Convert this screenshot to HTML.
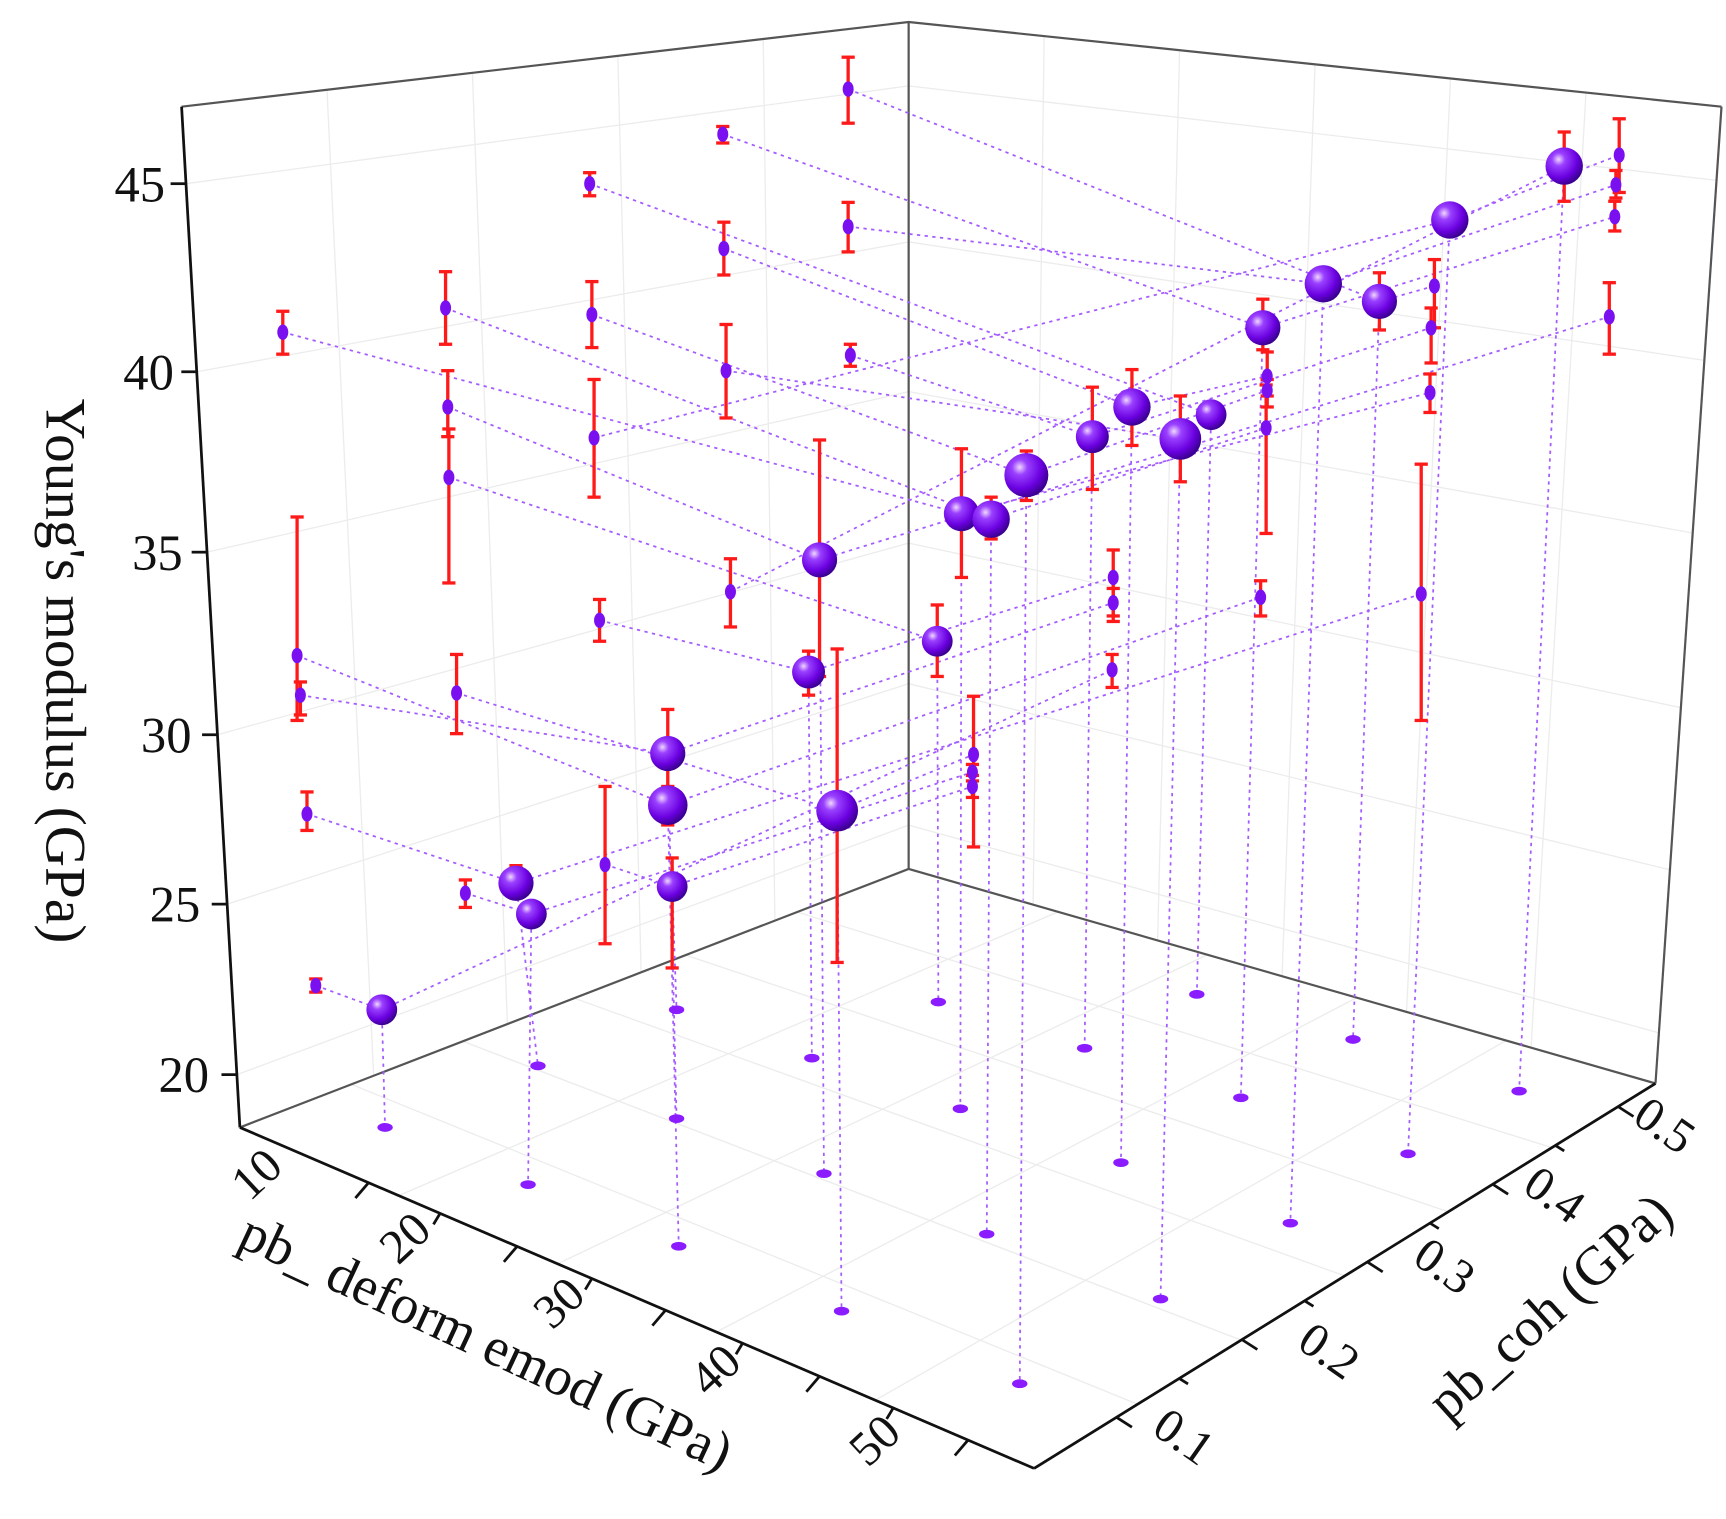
<!DOCTYPE html>
<html><head><meta charset="utf-8"><style>html,body{margin:0;padding:0;background:#fff}svg{display:block}</style></head>
<body>
<svg id="s" xmlns="http://www.w3.org/2000/svg" width="1726" height="1519" viewBox="0 0 1569 1381" font-family="'Liberation Serif', serif">
<defs>
<radialGradient id="g" cx="0.35" cy="0.32" r="0.7">
<stop offset="0" stop-color="#f0d8ff"/><stop offset="0.25" stop-color="#9a40ff"/><stop offset="0.7" stop-color="#6a00e0"/><stop offset="1" stop-color="#3a0090"/>
</radialGradient>
</defs>
<g id="grid" stroke="#ececec" stroke-width="1.2" fill="none"></g>
<g id="frame" fill="none" stroke="#555" stroke-width="2">
<polyline points="165,97 826,20 1565,97"/>
<line x1="826" y1="20" x2="826" y2="790"/>
<line x1="1565" y1="97" x2="1505" y2="985"/>
<polyline points="218,1025 826,790 1505,985"/>
</g>
<g id="dots" fill="none" stroke="#a45cff" stroke-width="1.6" stroke-dasharray="3,4"></g>
<g id="err" stroke="#ff1a1a" stroke-width="3" fill="none"></g>
<g id="pts"></g>
<g fill="none" stroke="#111" stroke-width="2.5">
<line x1="165" y1="97" x2="218" y2="1025"/>
<line x1="218" y1="1025" x2="940" y2="1335"/>
<line x1="940" y1="1335" x2="1505" y2="985"/>
</g>
<g id="ticks" stroke="#111" stroke-width="2.5"></g>
<g font-size="46" fill="#111" text-anchor="end">
<text x="150" y="183">45</text><text x="158" y="354">40</text><text x="166" y="518">35</text><text x="174" y="684">30</text><text x="182" y="838">25</text><text x="190" y="993">20</text>
</g>
<g font-size="44" fill="#111" text-anchor="middle">
<text transform="translate(243,1078) rotate(-43)">10</text>
<text transform="translate(378,1136) rotate(-43)">20</text>
<text transform="translate(518,1195) rotate(-43)">30</text>
<text transform="translate(660,1256) rotate(-43)">40</text>
<text transform="translate(805,1320) rotate(-43)">50</text>
</g>
<g font-size="44" fill="#111" text-anchor="middle">
<text transform="translate(1068,1318) rotate(35)">0.1</text>
<text transform="translate(1200,1240) rotate(35)">0.2</text>
<text transform="translate(1305,1163) rotate(35)">0.3</text>
<text transform="translate(1405,1098) rotate(35)">0.4</text>
<text transform="translate(1505,1035) rotate(35)">0.5</text>
</g>
<text font-size="52" fill="#111" text-anchor="middle" transform="translate(42,610) rotate(90)">Young's modulus (GPa)</text>
<text font-size="50" fill="#111" text-anchor="middle" transform="translate(435,1235) rotate(25)">pb_ deform emod (GPa)</text>
<text font-size="50" fill="#111" text-anchor="middle" transform="translate(1420,1200) rotate(-42)">pb_coh (GPa)</text>
</svg>
<script>
var NS="http://www.w3.org/2000/svg";
function el(p,t,a){var e=document.createElementNS(NS,t);for(var k in a)e.setAttribute(k,a[k]);document.getElementById(p).appendChild(e);return e;}
var L=function(a,b,c,d){el('grid','line',{x1:a,y1:b,x2:c,y2:d});};
var ry=[167,338,502,668,822,977];
ry.forEach(function(y){var f=(y-97)/928;L(165+53*f,y,826,20+f*770);});
for(var i=1;i<5;i++){L(165+i*661/5,97-77*i/5,218+i*608/5,1025-235*i/5);}
for(var i=1;i<6;i++){L(826+i*(1565-826)/6,20+77*i/6,826+i*(1505-826)/6,790+195*i/6);}
ry.forEach(function(y){var f=(y-97)/928;L(826,20+f*770,1565-60*f,97+f*(985-97));});
for(var i=1;i<5;i++){L(218+i*(940-218)/5,1025+i*310/5,826+i*(1505-826)/5,790+i*195/5);}
for(var i=1;i<6;i++){L(826+(218-826)*i/6,790+235*i/6,1505+(940-1505)*i/6,985+350*i/6);}
ry.forEach(function(y){var f=(y-97)/928;var x=165+53*f;el('ticks','line',{x1:x-14,y1:y,x2:x,y2:y});});
[335,400,470,538,605,675,745,812,880].forEach(function(x,i){var y=1025+(x-218)*310/722;el('ticks','line',{x1:x,y1:y,x2:x-(i%2?6:12),y2:y+(i%2?10:14)});});
for(var i=0;i<9;i++){var x=1015+i*57;var y=1335-(x-940)*350/565;el('ticks','line',{x1:x,y1:y,x2:x+(i%2?8:14),y2:y+(i%2?5:9)});}
var S=[[347,918,14],[469,803,16],[483,831,14],[607,685,16],[607,732,18],[611,806,14],[735,611,15],[745,509,16],[761,737,19],[852,583,14],[874,467,16],[901,472,17],[933,432,20],[993,397,15],[1029,370,17],[1073,399,19],[1101,377,14],[1148,298,16],[1203,258,17],[1254,274,16],[1318,200,17],[1422,151,17]];
var SE={1:[787,812],3:[645,730],4:[715,750],5:[780,880],6:[592,632],7:[400,615],8:[590,875],9:[550,615],10:[408,525],11:[452,490],12:[410,455],13:[352,445],14:[336,405],15:[360,438],17:[272,318],19:[248,300],21:[120,183]};
var LP=[[257,302,283,322],[270,596,470,655],[273,632,620,650],[279,740,720,755],[287,896,890,902],[405,280,247,313],[407,370,337,397],[408,434,390,530],[415,630,595,667],[423,812,800,825],[536,167,157,178],[538,286,256,316],[540,398,345,452],[545,564,545,583],[550,786,715,858],[657,122,115,130],[658,226,202,250],[660,337,295,380],[664,538,508,570],[771,81,52,112],[771,206,184,229],[773,323,313,333]];
var RP=[[1472,141,108,175],[1469,168,155,180],[1468,197,183,210],[1463,288,257,322],[1304,260,236,298],[1301,298,280,330],[1300,357,340,375],[1292,540,422,655],[1152,342,320,360],[1152,355,345,370],[1151,389,350,485],[1146,543,528,560],[1012,525,500,560],[1012,548,535,565],[1011,609,595,625],[885,686,633,770],[884,702,695,710],[884,715,705,725]];
var FP=[[350,1025],[480,1077],[489,969],[615,918],[615,1017],[617,1133],[738,962],[749,1067],[765,1192],[853,911],[873,1008],[897,1122],[927,1258],[986,953],[1019,1057],[1055,1181],[1088,904],[1128,998],[1173,1112],[1230,945],[1280,1049],[1381,992]];
function pair(A,B,score){var c=[];A.forEach(function(a,i){B.forEach(function(b,j){c.push([score(a,b),i,j]);});});c.sort(function(p,q){return p[0]-q[0];});var ua={},ub={},r=[];c.forEach(function(p){if(!ua[p[1]]&&!ub[p[2]]&&p[0]<1e8){ua[p[1]]=1;ub[p[2]]=1;r.push([p[1],p[2]]);}});return r;}
var D=function(a,b,c,d){el('dots','line',{x1:a,y1:b,x2:c,y2:d});};
pair(S,LP,function(s,l){if(l[0]>=s[0])return 1e9;return Math.abs((s[1]-l[1])/(s[0]-l[0])-0.38);}).forEach(function(p){var s=S[p[0]],l=LP[p[1]];D(l[0],l[1],s[0],s[1]);});
pair(S,RP,function(s,r){if(r[0]<=s[0])return 1e9;return Math.abs((r[1]-s[1])/(r[0]-s[0])+0.33);}).forEach(function(p){var s=S[p[0]],r=RP[p[1]];D(s[0],s[1],r[0],r[1]);});
pair(S,FP,function(s,f){if(f[1]<=s[1])return 1e9;return Math.abs(f[0]-s[0]);}).forEach(function(p){var s=S[p[0]],f=FP[p[1]];D(s[0],s[1],f[0],f[1]);});
function eb(x,y1,y2){el('err','line',{x1:x,y1:y1,x2:x,y2:y2});el('err','line',{x1:x-6,y1:y1,x2:x+6,y2:y1});el('err','line',{x1:x-6,y1:y2,x2:x+6,y2:y2});}
LP.concat(RP).forEach(function(p){eb(p[0],p[2],p[3]);});
for(var k in SE){var s=S[k];eb(s[0],SE[k][0],SE[k][1]);}
FP.forEach(function(f){el('pts','ellipse',{cx:f[0],cy:f[1],rx:7,ry:4,fill:'#8a1cff'});});
LP.concat(RP).forEach(function(p){el('pts','ellipse',{cx:p[0],cy:p[1],rx:5,ry:7,fill:'#7a10f0'});});
S.forEach(function(s){el('pts','circle',{cx:s[0],cy:s[1],r:s[2],fill:'url(#g)'});});
</script>
</body></html>
